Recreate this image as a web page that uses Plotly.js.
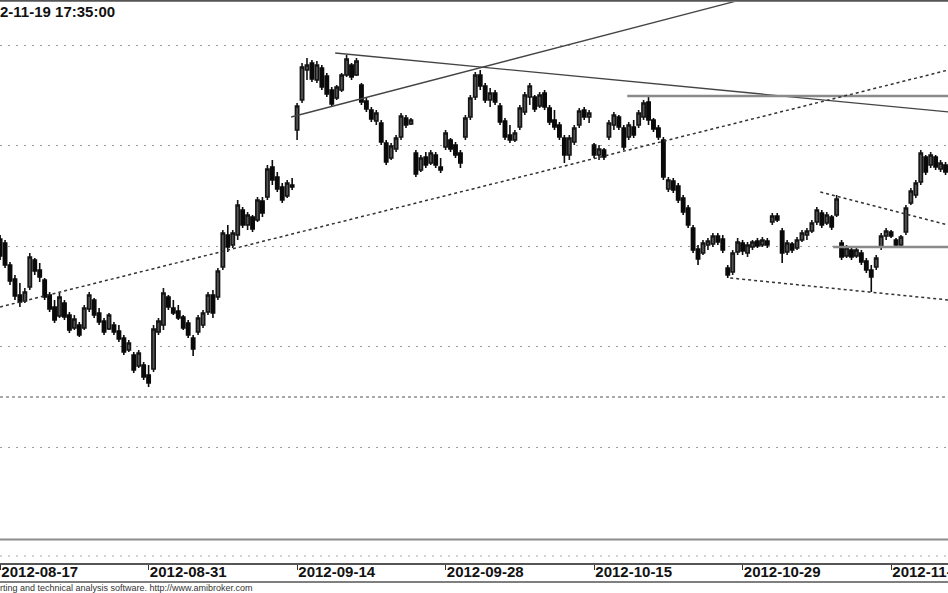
<!DOCTYPE html>
<html>
<head>
<meta charset="utf-8">
<script src="https://cdn.plot.ly/plotly-3.0.1.min.js"></script>
<style>
html,body{margin:0;padding:0;background:#fff;}
#chart{width:948px;height:593px;}
</style>
</head>
<body>
<div id="chart"></div>
<script>
// ---- data ----
const chartTitle = "2-11-19 17:35:00";
const footerText = "rting and technical analysis software. http://www.amibroker.com";

// tick labels at bar indices
const tickBars = [0, 30, 60, 90, 120, 150, 180];
const tickDates = ["2012-08-17", "2012-08-31", "2012-09-14", "2012-09-28", "2012-10-15", "2012-10-29", "2012-11-12"];

const openP = [
40.6,40.2,38.0,36.6,35.0,34.4,35.8,38.5,37.5,36.5,
35.0,33.8,32.9,34.2,33.0,31.7,32.0,31.7,33.6,34.5,
33.2,32.4,31.6,32.0,31.4,30.7,29.5,29.0,27.9,28.0,
27.0,27.6,31.3,32.0,34.8,33.7,33.4,32.8,32.2,30.7,
31.3,32.0,33.3,35.0,34.8,37.8,41.0,40.0,41.0,43.5,
42.0,42.8,42.5,44.4,44.8,47.8,46.8,45.8,44.9,46.0,
51.5,54.5,57.5,58.2,56.5,57.7,56.9,55.5,54.7,55.5,
57.0,58.0,57.0,56.0,54.4,53.5,52.4,52.2,50.2,48.7,
49.6,50.8,52.7,52.1,49.2,47.5,48.8,48.2,49.0,47.8,
49.8,50.5,50.0,49.2,50.8,52.8,54.8,57.0,55.9,54.5,
55.2,53.9,52.4,51.0,50.5,51.8,53.3,54.8,54.8,53.9,
55.2,53.7,52.5,52.0,50.7,49.0,50.3,52.0,53.5,52.8,
50.0,49.0,49.5,50.8,52.0,52.8,51.7,50.8,51.8,52.0,
52.8,54.3,52.5,51.7,50.5,45.6,46.4,45.9,44.7,43.7,
41.7,39.6,39.2,40.0,40.1,40.9,40.6,37.7,37.3,39.3,
40.2,39.2,39.8,40.4,40.0,40.4,42.3,42.9,41.4,39.3,
40.1,39.7,40.5,41.0,41.4,42.3,43.2,42.2,42.8,43.0,
40.2,38.9,39.5,38.9,39.2,38.4,37.5,37.8,39.8,40.9,
41.3,40.5,40.0,41.3,44.2,45.0,46.3,48.8,48.0,48.8,
47.6,48.0,47.5];

const highP = [
41.0,40.5,38.3,37.0,36.2,35.7,39.2,38.7,38.2,36.7,
35.3,34.5,35.2,34.5,33.3,33.0,32.3,34.0,35.3,34.7,
33.7,32.7,33.2,32.3,32.0,31.0,30.5,29.3,29.5,28.3,
28.0,32.0,32.7,35.7,35.0,34.5,34.0,33.0,32.5,31.0,
33.0,33.5,35.3,35.5,37.7,41.5,42.0,41.5,44.5,43.8,
43.3,43.0,44.8,44.8,48.0,48.5,47.3,46.2,46.5,46.7,
54.2,58.2,58.7,58.5,58.4,58.0,57.2,55.8,56.0,57.2,
59.0,58.2,58.7,56.2,54.7,53.8,53.5,52.5,50.5,50.2,
51.0,53.2,53.0,52.7,49.5,49.0,49.3,49.5,49.3,48.7,
51.5,50.7,50.3,49.5,53.0,55.0,57.3,57.5,56.2,55.7,
55.5,54.2,52.7,52.0,51.5,54.0,55.3,56.2,55.0,55.3,
55.5,54.0,53.5,52.3,51.0,51.0,52.0,53.7,53.8,53.5,
50.2,50.0,49.7,52.5,53.3,53.0,52.0,52.3,52.5,53.5,
54.5,54.8,52.7,52.0,50.8,46.8,46.7,46.2,45.0,44.0,
42.0,40.0,40.5,40.7,41.2,41.2,41.0,38.0,39.5,40.7,
40.5,40.3,40.5,40.7,40.8,40.7,43.2,43.2,41.7,40.5,
40.3,40.8,41.5,41.7,42.5,43.8,43.5,43.3,43.0,45.0,
40.5,40.0,39.8,39.8,39.5,38.7,38.0,39.0,41.2,41.7,
41.5,40.7,41.0,44.0,45.7,46.5,49.5,49.0,49.3,49.0,
48.5,48.3,48.5];

const lowP = [
38.5,37.7,36.0,34.5,33.8,34.2,35.5,37.0,36.3,34.5,
33.3,32.2,32.7,32.5,31.2,31.5,30.8,31.5,33.3,32.7,
32.0,31.0,31.5,31.0,30.3,29.0,29.3,27.2,27.7,26.5,
25.8,27.3,31.0,31.5,33.5,33.0,32.5,31.5,30.7,28.9,
31.0,31.7,33.0,32.7,34.5,37.5,39.3,39.7,40.5,41.7,
41.5,41.3,42.3,42.8,44.5,46.0,45.3,44.2,44.7,45.5,
50.5,54.2,56.5,56.3,56.2,55.5,54.8,53.8,54.5,55.3,
56.8,56.5,56.9,54.0,53.3,52.3,52.0,50.0,48.0,48.5,
49.3,50.5,51.7,52.0,46.8,47.3,47.7,48.0,47.7,47.2,
49.5,49.3,48.7,47.7,50.5,52.5,54.5,55.5,54.2,53.8,
54.0,52.0,50.5,50.2,50.3,51.5,53.0,54.0,53.3,53.7,
53.5,52.0,51.5,50.5,48.2,48.5,50.0,51.7,52.5,52.2,
48.7,48.5,48.5,50.5,51.5,51.5,49.5,50.5,50.7,51.7,
52.5,52.0,51.3,50.5,46.5,45.3,45.2,44.2,43.0,41.7,
39.2,38.0,39.0,39.5,39.8,40.0,39.2,36.7,37.0,39.0,
39.0,38.8,39.5,39.7,39.8,39.7,42.0,42.3,38.2,39.0,
39.2,39.5,40.3,40.5,41.2,42.0,41.7,42.0,41.5,42.8,
38.5,38.7,38.5,38.7,38.0,37.2,35.3,37.5,39.5,40.5,
40.7,39.8,39.8,41.0,44.0,44.7,46.0,47.0,47.7,47.5,
47.3,47.0,47.2];

const closeP = [
38.9,38.0,36.4,34.9,34.3,35.3,38.8,37.4,36.8,34.8,
33.6,32.5,34.8,32.8,31.5,32.6,31.0,33.7,35.0,33.0,
32.3,31.3,33.0,31.3,30.6,29.3,30.2,27.5,29.2,26.8,
26.2,31.6,32.4,35.2,33.8,33.2,32.7,31.7,31.0,29.6,
32.7,33.2,35.0,33.2,37.4,41.2,39.8,41.2,44.0,42.0,
43.0,41.6,44.5,43.2,47.6,46.5,45.6,44.5,46.2,45.8,
53.9,57.8,58.0,56.6,58.0,55.8,55.1,54.1,55.8,57.0,
58.6,56.8,58.4,54.3,53.6,52.6,53.2,50.3,48.3,49.9,
50.7,52.9,52.0,52.5,47.1,48.7,48.0,49.2,48.0,47.5,
51.2,49.6,49.0,48.2,52.7,54.7,57.0,55.9,54.5,55.2,
54.3,52.3,50.8,50.5,51.2,53.7,55.0,55.9,53.6,55.0,
53.8,52.3,51.8,50.8,49.0,50.7,51.7,53.4,52.8,53.2,
49.0,49.6,48.8,52.2,53.0,51.8,49.8,52.0,51.0,53.2,
54.2,52.5,51.6,50.8,46.8,46.5,45.5,44.5,43.3,42.0,
39.5,38.6,40.2,40.4,40.9,40.3,39.5,37.0,39.2,40.3,
39.4,40.0,40.3,39.9,40.5,40.0,42.9,42.5,39.2,40.2,
39.5,40.5,41.2,41.4,42.2,43.5,42.0,43.0,41.8,44.6,
38.8,39.7,38.8,39.5,38.3,37.5,36.8,38.7,40.9,41.4,
40.9,40.0,40.8,43.7,45.4,46.2,49.2,47.3,49.0,47.8,
48.2,47.3,48.2];

// trend lines drawn on the chart (bar index, price)
const trendX0 = [58.8, 67.7, 126.7, 0.0, 165.7, 147.5, 168.3];
const trendY0 = [52.8, 59.2, 54.9, 33.8, 45.3, 36.7, 39.8];
const trendX1 = [150.3, 191.6, 191.6, 191.6, 191.6, 191.6, 191.6];
const trendY1 = [64.6, 53.3, 54.9, 57.5, 42.0, 34.5, 39.8];
const trendKind = ["solid", "solid", "level", "dotted", "dotted", "dotted", "level"];

// horizontal level
const levelPrice = 24.8;

// ---- build ----
const barIndex = openP.map((_, i) => i);
const fontFam = "Liberation Sans, Arial, sans-serif";

const traces = [{
  type: "candlestick",
  x: barIndex, open: openP, high: highP, low: lowP, close: closeP,
  increasing: {line: {color: "#141414", width: 1.6}, fillcolor: "#555555"},
  decreasing: {line: {color: "#0a0a0a", width: 1.6}, fillcolor: "#0a0a0a"},
  whiskerwidth: 0,
  hoverinfo: "skip",
  showlegend: false
}];

const styleFor = {
  solid: {color: "#444444", width: 1.3},
  level: {color: "#8a8a8a", width: 2.5},
  dotted: {color: "#333333", width: 1.5, dash: "3px,3px"}
};
for (let k = 0; k < trendX0.length; k++) {
  traces.push({
    type: "scatter", mode: "lines",
    x: [trendX0[k], trendX1[k]], y: [trendY0[k], trendY1[k]],
    line: styleFor[trendKind[k]],
    hoverinfo: "skip", showlegend: false
  });
}

const H = 593;
const py = px => (H - px) / H; // paper fraction from pixel row

const layout = {
  width: 948, height: 593,
  margin: {l: 0, r: 0, t: 0, b: 0, pad: 0},
  paper_bgcolor: "#ffffff", plot_bgcolor: "#ffffff",
  showlegend: false,
  boxgap: 0.05,
  xaxis: {
    range: [-0.02, 191.5],
    anchor: "free", position: py(563),
    showline: true, linecolor: "#555555", linewidth: 1.5,
    ticks: "outside", ticklen: 5, tickwidth: 1, tickcolor: "#333333",
    tickmode: "array", tickvals: tickBars, ticktext: tickDates,
    ticklabelposition: "outside right",
    ticklabeloverflow: "allow",
    ticklabelstandoff: -6,
    tickfont: {family: fontFam, size: 15, color: "#111111", weight: "bold"},
    showgrid: false, zeroline: false,
    rangeslider: {visible: false}, fixedrange: true
  },
  yaxis: {
    domain: [py(540), py(2)],
    range: [10.5, 64.3],
    tickmode: "linear", tick0: 60, dtick: 10.05,
    showticklabels: false, ticks: "",
    showgrid: true, gridcolor: "#9c9c9c", gridwidth: 1, griddash: "2px,6px",
    zeroline: false, showline: false, fixedrange: true
  },
  shapes: [
    {type: "line", xref: "paper", yref: "paper", x0: 0, x1: 1, y0: py(0.8), y1: py(0.8), line: {color: "#555555", width: 2}},
    {type: "line", xref: "paper", yref: "paper", x0: 0, x1: 1, y0: py(539.5), y1: py(539.5), line: {color: "#8c8c8c", width: 2}},
    {type: "line", xref: "paper", yref: "paper", x0: 0, x1: 1, y0: py(556), y1: py(556), line: {color: "#a8a8a8", width: 1, dash: "2px,6px"}},
    {type: "line", xref: "paper", yref: "paper", x0: 0, x1: 1, y0: py(582), y1: py(582), line: {color: "#555555", width: 1.5}},
    {type: "line", xref: "paper", yref: "y", x0: 0, x1: 1, y0: levelPrice, y1: levelPrice, line: {color: "#555555", width: 1.2, dash: "3px,3px"}}
  ],
  annotations: [
    {text: chartTitle, xref: "paper", yref: "paper", x: 0, y: py(11), xanchor: "left", yanchor: "middle",
     xshift: -2, showarrow: false, font: {family: fontFam, size: 15, color: "#111111", weight: "bold"}},
    {text: footerText, xref: "paper", yref: "paper", x: 0, y: py(588), xanchor: "left", yanchor: "middle",
     xshift: -2, showarrow: false, font: {family: fontFam, size: 9, color: "#333333"}}
  ]
};

Plotly.newPlot("chart", traces, layout, {displayModeBar: false, staticPlot: true});
</script>
</body>
</html>
